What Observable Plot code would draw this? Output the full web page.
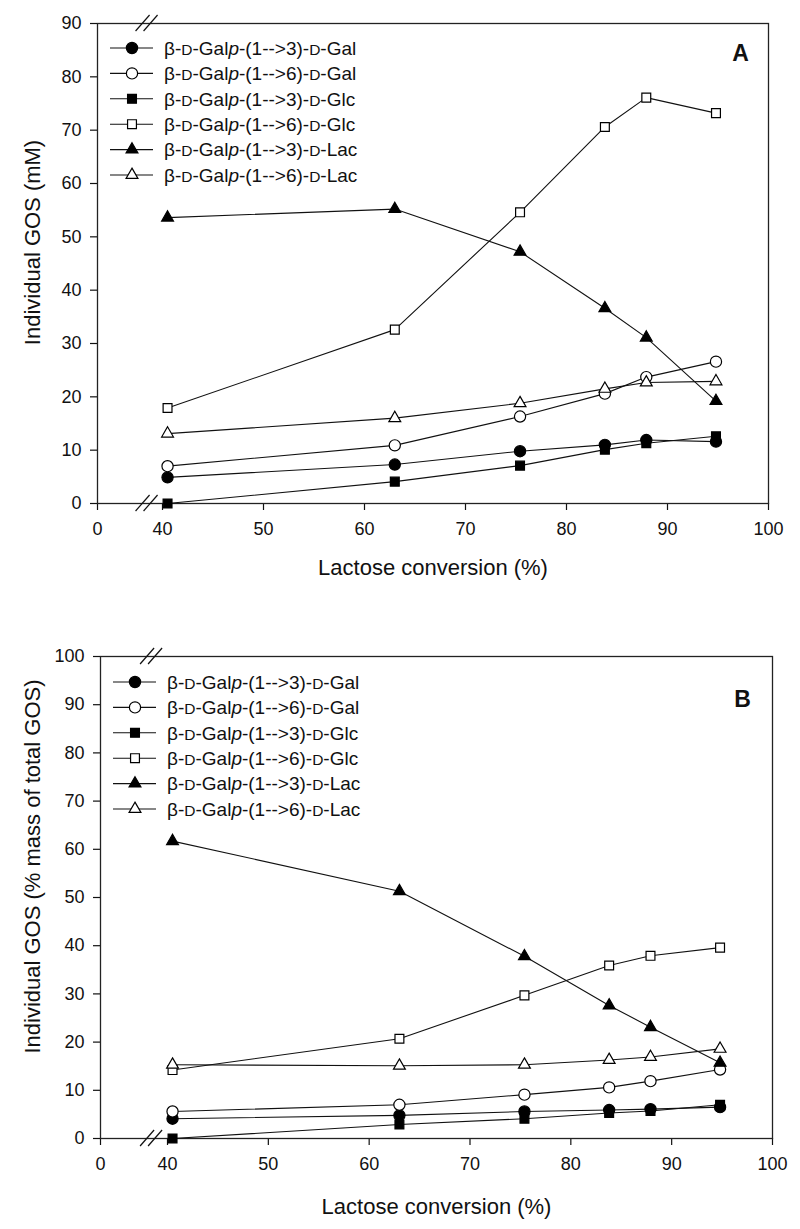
<!DOCTYPE html>
<html><head><meta charset="utf-8">
<script src="https://cdn.jsdelivr.net/npm/d3@7"></script>
<script src="https://cdn.jsdelivr.net/npm/@observablehq/plot@0.6"></script>
<style>
body{margin:0;background:#fff;}
#chart svg{display:block;}
</style></head><body><div id="chart"></div>
<script>
// ---- data ----
const conversion = [40.5, 63.0, 75.4, 83.8, 87.9, 94.8];
const seriesNames = [
  "β-D-Galp-(1-->3)-D-Gal",
  "β-D-Galp-(1-->6)-D-Gal",
  "β-D-Galp-(1-->3)-D-Glc",
  "β-D-Galp-(1-->6)-D-Glc",
  "β-D-Galp-(1-->3)-D-Lac",
  "β-D-Galp-(1-->6)-D-Lac"
];
const xTicks = [0, 40, 50, 60, 70, 80, 90, 100];
const yTicksA = [0, 10, 20, 30, 40, 50, 60, 70, 80, 90];
const yTicksB = [0, 10, 20, 30, 40, 50, 60, 70, 80, 90, 100];
const xLabel = "Lactose conversion (%)";
const yLabelA = "Individual GOS (mM)";
const yLabelB = "Individual GOS (% mass of total GOS)";

// Panel A: mM
const mmGal13 = [4.9, 7.3, 9.8, 11.0, 11.9, 11.6];
const mmGal16 = [7.0, 10.9, 16.3, 20.6, 23.7, 26.6];
const mmGlc13 = [0.0, 4.1, 7.1, 10.1, 11.3, 12.6];
const mmGlc16 = [17.9, 32.6, 54.6, 70.6, 76.1, 73.2];
const mmLac13 = [53.6, 55.2, 47.2, 36.6, 31.1, 19.2];
const mmLac16 = [13.1, 16.0, 18.8, 21.5, 22.7, 22.9];

// Panel B: % mass of total GOS
const pctGal13 = [4.1, 4.8, 5.6, 5.9, 6.1, 6.5];
const pctGal16 = [5.6, 7.0, 9.1, 10.6, 11.9, 14.3];
const pctGlc13 = [0.0, 2.9, 4.1, 5.3, 5.7, 7.0];
const pctGlc16 = [14.2, 20.7, 29.7, 35.9, 37.9, 39.6];
const pctLac13 = [61.7, 51.3, 37.8, 27.6, 23.1, 15.7];
const pctLac16 = [15.3, 15.1, 15.3, 16.3, 16.9, 18.6];

// ---- styles ----
const symbols = ["circle", "circle", "square", "square", "triangle", "triangle"];
const fills = ["black", "white", "black", "white", "black", "white"];
const radii = {circle: 5.6, square: 5.0, triangle: 4.4};
const d3sym = {circle: d3.symbolCircle, square: d3.symbolSquare, triangle: d3.symbolTriangle};
const FONT = "'Liberation Sans', Arial, Helvetica, sans-serif";

function makeRows(seriesValues) {
  return seriesValues.map((vals, i) =>
    vals.map((v, j) => ({series: seriesNames[i], x: conversion[j], y: v, idx: i})));
}

function panel(cfg) {
  const rows = makeRows(cfg.values);
  const W = 800;
  // broken x axis: 0–40 compressed into (x40 - mLeft) pixels, 40–100 linear
  const pxPerUnit = (W - cfg.mRight - cfg.x40) / 60;
  const brk = (cfg.x40 - cfg.mLeft) / pxPerUnit;
  const xTransform = v => v <= 40 ? v * brk / 40 : brk + (v - 40);
  const tickPos = xTicks.map(xTransform);
  const tickLabel = d => {
    let best = 0;
    tickPos.forEach((p, i) => { if (Math.abs(p - d) < Math.abs(tickPos[best] - d)) best = i; });
    return String(xTicks[best]);
  };
  const marks = [];
  rows.forEach((r, i) => {
    marks.push(Plot.line(r, {x: "x", y: "y", stroke: "#111", strokeWidth: 1.1}));
  });
  rows.forEach((r, i) => {
    marks.push(Plot.dot(r, {x: "x", y: "y", symbol: () => symbols[i], r: radii[symbols[i]],
      fill: fills[i], stroke: "#000", strokeWidth: 1.2}));
  });
  const plot = Plot.plot({
    width: W, height: cfg.height,
    marginLeft: cfg.mLeft, marginRight: cfg.mRight, marginTop: cfg.mTop, marginBottom: cfg.mBottom,
    style: {fontFamily: FONT, fontSize: "18px", color: "#111", background: "white"},
    x: {type: "linear", transform: xTransform, domain: [0, brk + 60]},
    y: {domain: [0, cfg.yTicks[cfg.yTicks.length - 1]]},
    symbol: {type: "identity"},
    marks: [
      Plot.axisX({ticks: tickPos, tickFormat: tickLabel, tickSize: 7, tickPadding: 12, label: null, strokeWidth: 1.2}),
      Plot.axisY({ticks: cfg.yTicks, tickSize: 7, tickPadding: 9, label: null, strokeWidth: 1.2}),
      Plot.frame({stroke: "#222", strokeWidth: 1.3}),
      ...marks,
      Plot.text([xLabel], {frameAnchor: "bottom", textAnchor: "middle", dy: cfg.xLabelDy, fontSize: 22}),
      Plot.text([cfg.yLabel], {frameAnchor: "left", textAnchor: "middle", rotate: -90, dx: cfg.yLabelDx, dy: cfg.yLabelDy, fontSize: 22}),
      Plot.text([cfg.letter], {frameAnchor: "top-right", textAnchor: "middle", dx: cfg.letterDx, dy: cfg.letterDy, fontSize: 23, fontWeight: "bold"})
    ]
  });

  const svg = d3.select(plot);
  // axis break marks at bottom axis and top frame
  const bx = cfg.mLeft + (cfg.x40 - cfg.mLeft) * 30.5 / 40;
  const yBottom = cfg.height - cfg.mBottom, yTop = cfg.mTop;
  const gb = svg.append("g").attr("stroke", "#111").attr("stroke-width", 1.2);
  [yBottom, yTop].forEach(yy => {
    [-4, 4].forEach(off => {
      gb.append("line").attr("x1", bx + off - 7).attr("y1", yy + 8)
        .attr("x2", bx + off + 7).attr("y2", yy - 8);
    });
  });

  // legend inside the frame
  const lg = svg.append("g").attr("transform", `translate(${cfg.mLeft},${cfg.mTop})`);
  seriesNames.forEach((name, i) => {
    const yy = cfg.legendTop + i * 25.4;
    lg.append("line").attr("x1", 13).attr("x2", 56).attr("y1", yy).attr("y2", yy)
      .attr("stroke", "#111").attr("stroke-width", 1.1);
    const r = radii[symbols[i]];
    lg.append("path").attr("d", d3.symbol(d3sym[symbols[i]], r * r * Math.PI)())
      .attr("transform", `translate(35,${yy})`)
      .attr("fill", fills[i]).attr("stroke", "#000").attr("stroke-width", 1.2);
    const t = lg.append("text").attr("x", 67).attr("y", yy).attr("dy", "0.36em")
      .attr("text-anchor", "start")
      .attr("font-size", 19).attr("fill", "#111").attr("font-family", FONT);
    name.split(/(D(?=-)|p(?=-\())/).forEach(part => {
      if (!part) return;
      const ts = t.append("tspan").text(part);
      if (part === "D") ts.attr("font-size", 15.5);
      if (part === "p") ts.attr("font-style", "italic");
    });
  });
  return plot;
}

const chart = document.getElementById("chart");
chart.appendChild(panel({
  values: [mmGal13, mmGal16, mmGlc13, mmGlc16, mmLac13, mmLac16],
  yTicks: yTicksA, yLabel: yLabelA, letter: "A",
  height: 615, mLeft: 97, mRight: 32, mTop: 23, mBottom: 112, x40: 162,
  xLabelDy: 71, yLabelDx: -65, yLabelDy: -21, letterDx: -28, letterDy: 21, legendTop: 25
}));
chart.appendChild(panel({
  values: [pctGal13, pctGal16, pctGlc13, pctGlc16, pctLac13, pctLac16],
  yTicks: yTicksB, yLabel: yLabelB, letter: "B",
  height: 614, mLeft: 100, mRight: 28, mTop: 41, mBottom: 91, x40: 167,
  xLabelDy: 75, yLabelDx: -68, yLabelDy: -31, letterDx: -30, letterDy: 34, legendTop: 26
}));
</script></body></html>
